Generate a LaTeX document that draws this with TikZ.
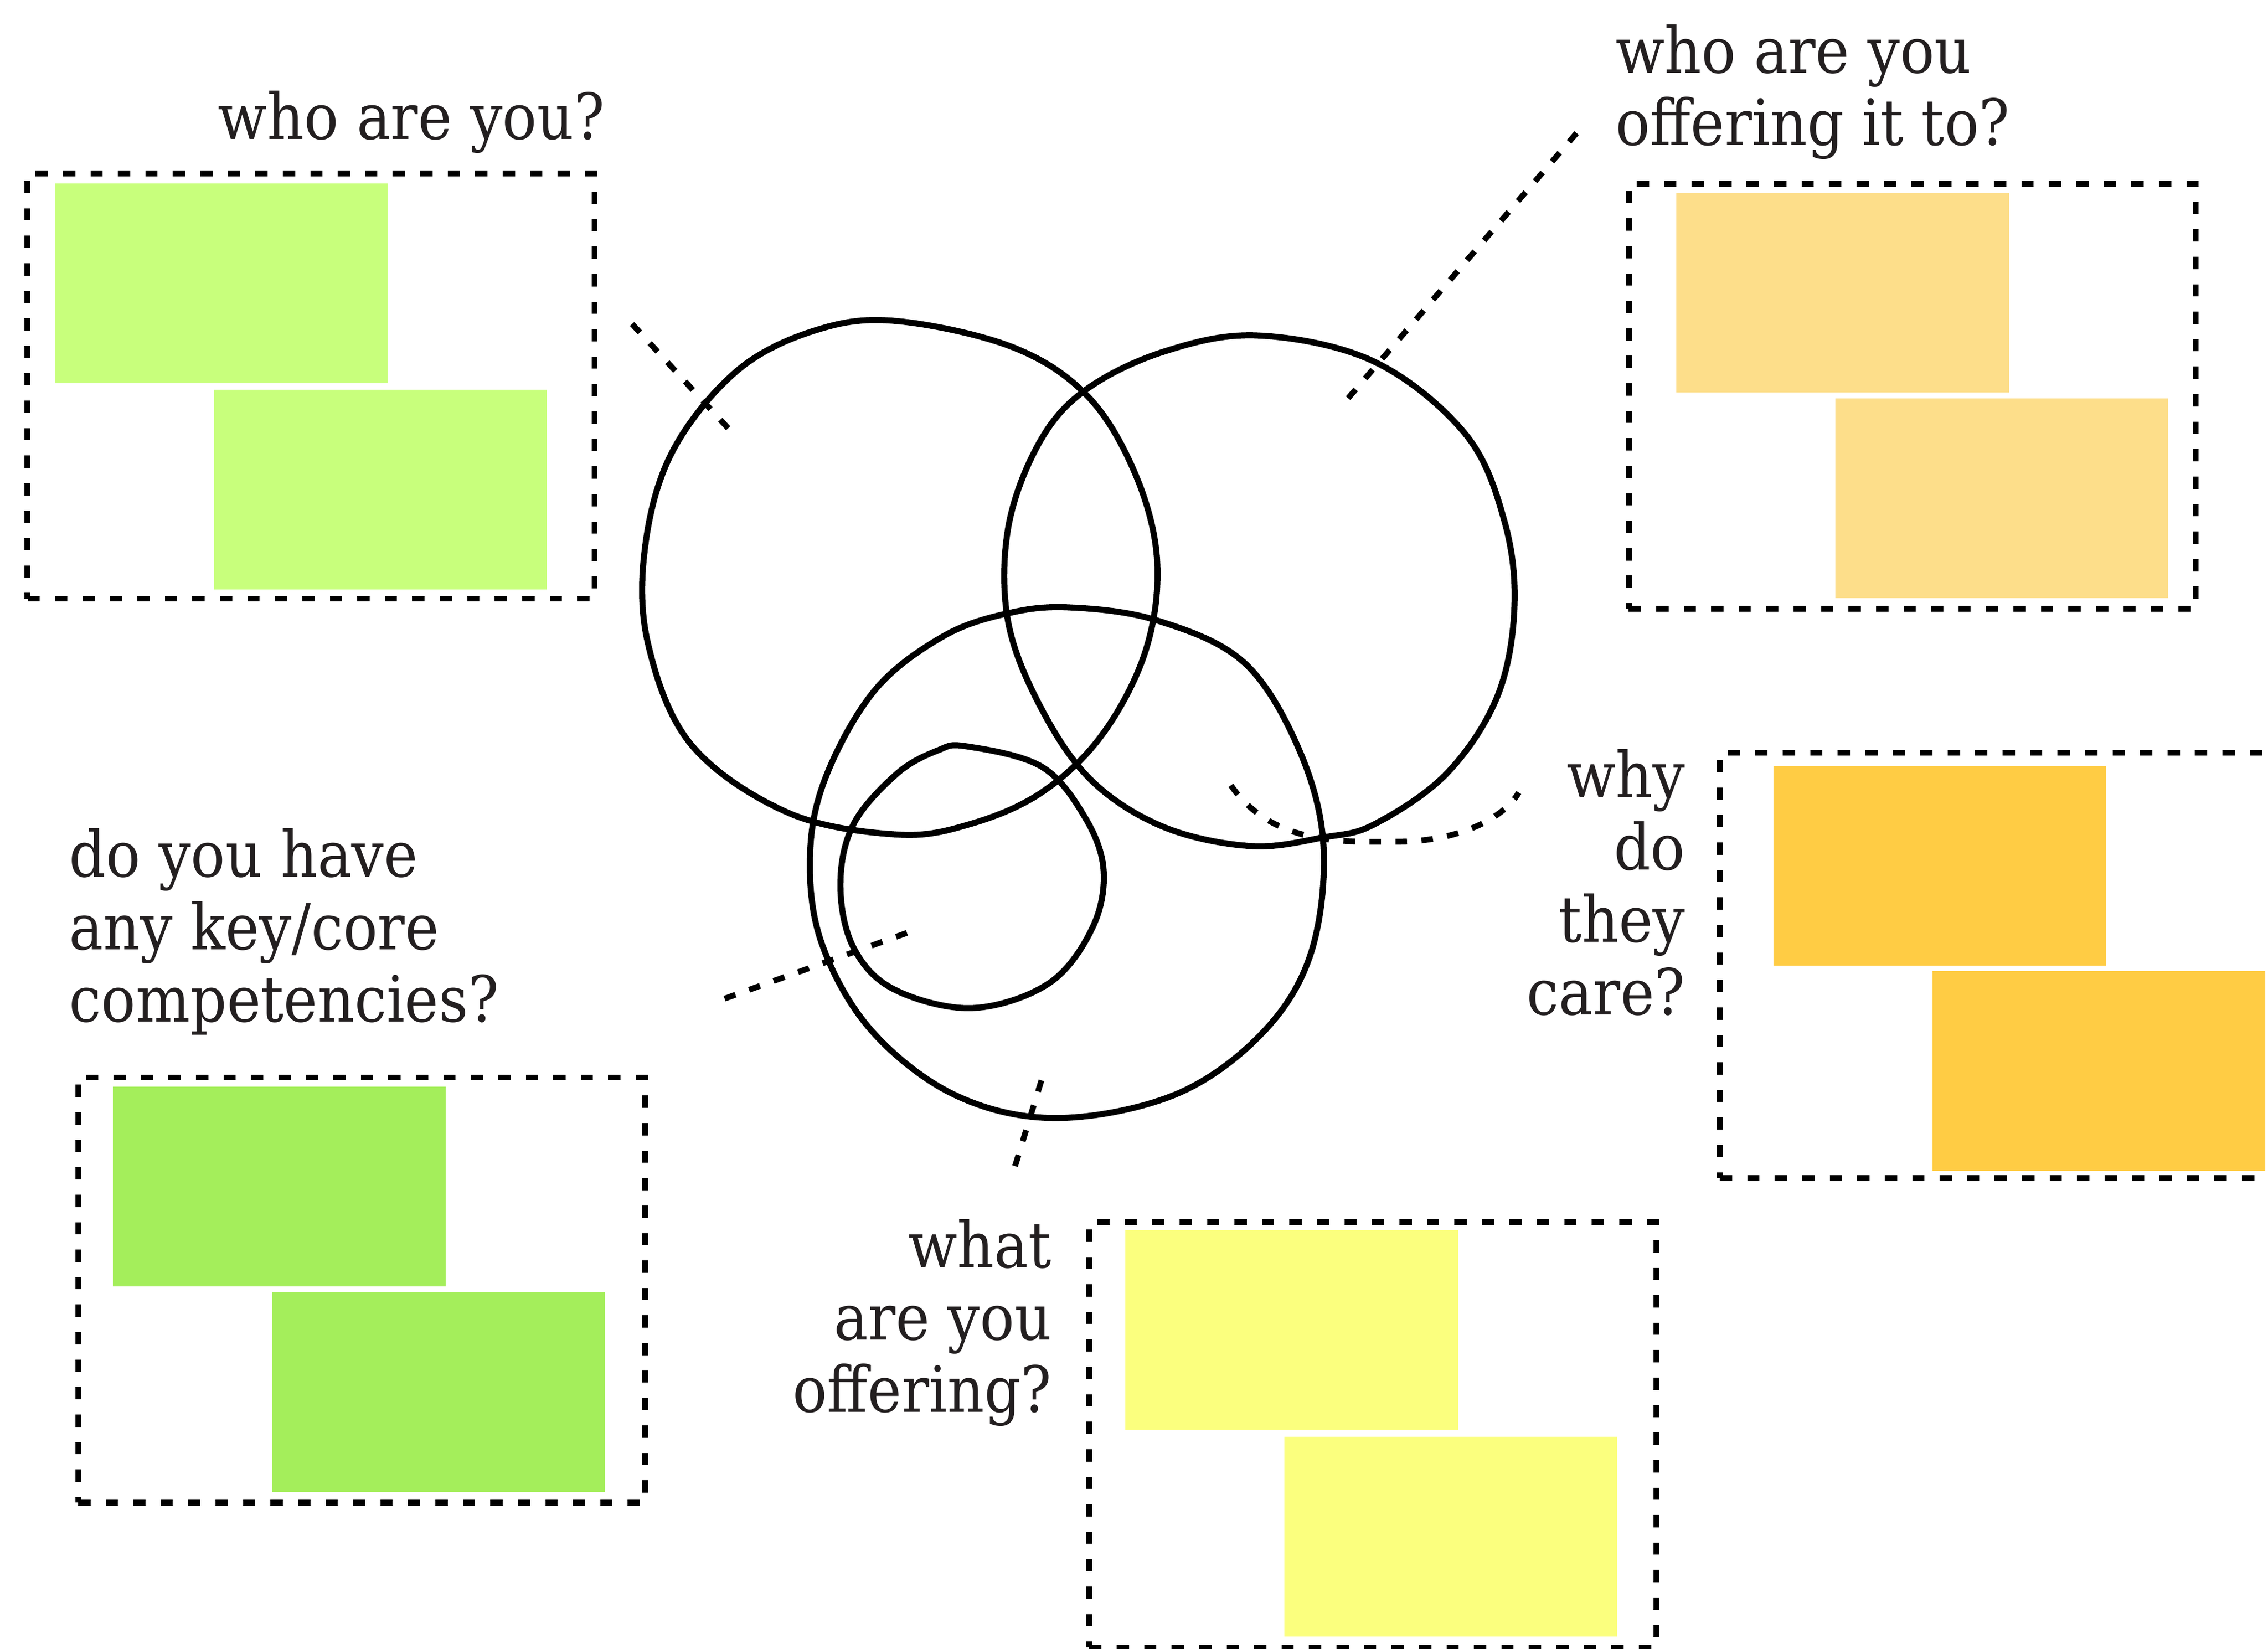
\documentclass[tikz,border=0pt]{standalone}
\usepackage{fontspec}
\setmainfont{DejaVu Serif Condensed}
\definecolor{txt}{HTML}{231F20}
\definecolor{greenA}{HTML}{C8FF7C}
\definecolor{orangeA}{HTML}{FDDE8A}
\definecolor{orangeB}{HTML}{FFCC44}
\definecolor{greenB}{HTML}{A4EE5B}
\definecolor{yellowA}{HTML}{FBFF7E}
\begin{document}
\begin{tikzpicture}[x=1pt,y=-1pt,
  dashbox/.style={draw=black, line width=4pt, dash pattern=on 8.5pt off 10.5pt, minimum width=392pt, minimum height=294pt, inner sep=0pt, outer sep=0pt},
  note/.style={minimum width=230pt, minimum height=138pt, inner sep=0pt, outer sep=0pt},
  blob/.style={draw=black, line width=4.2pt},
  conn/.style={draw=black, line width=4pt, dash pattern=on 8pt off 10pt},
  lbl/.style={font=\fontsize{44}{50}\selectfont, text=txt, inner sep=0pt, outer sep=0pt}]
\useasboundingbox (0,0) rectangle (1568,1140);
\fill[white] (0,0) rectangle (1568,1140);

% box 1
\node[dashbox] (box1) at (215,267) {};
\node[note, fill=greenA] (n1a) at (153,196) {};
\node[note, fill=greenA] (n1b) at (263,338.5) {};
% box 2
\node[dashbox] (box2) at (1322,274) {};
\node[note, fill=orangeA] (n2a) at (1274,202.5) {};
\node[note, fill=orangeA] (n2b) at (1384,344.5) {};
% box 3
\node[dashbox] (box3) at (1385,667.5) {};
\node[note, fill=orangeB] (n3a) at (1341,598.5) {};
\node[note, fill=orangeB] (n3b) at (1451,740.5) {};
% box 4
\node[dashbox] (box4) at (250,892) {};
\node[note, fill=greenB] (n4a) at (193,820.5) {};
\node[note, fill=greenB] (n4b) at (303,962.5) {};
% box 5
\node[dashbox] (box5) at (949,992) {};
\node[note, fill=yellowA] (n5a) at (893,919.5) {};
\node[note, fill=yellowA] (n5b) at (1003,1062.5) {};

% labels
\node[lbl, anchor=north east] (t1) at (418,63) {who are you?};
\node[lbl, anchor=north west, align=left] (t2) at (1117,17) {who are you\\offering it to?};
\node[lbl, anchor=north east, align=right] (t3) at (1165,518) {why\\do\\they\\care?};
\node[lbl, anchor=north west, align=left] (t4) at (48,573) {do you have\\any key/core\\competencies?};
\node[lbl, anchor=north east, align=right] (t5) at (727,843) {what\\are you\\offering?};

% circles
\draw[blob] plot[smooth cycle, tension=0.6] coordinates {
 (620,222) (700,240) (752,274) (785,328) (800,388) (792,450) (762,508) (720,548)
 (670,570) (620,577) (545,562) (478,515) (448,445) (446,378) (465,312) (510,256) (565,228)};
\draw[blob] plot[smooth cycle, tension=0.6] coordinates {
 (870,232) (950,250) (1013,300) (1040,360) (1047,420) (1035,482) (1000,535) (950,570)
 (915,579) (865,585) (805,572) (755,540) (720,490) (697,430) (697,365) (718,307) (750,270) (805,243)};
\draw[blob] plot[smooth cycle, tension=0.6] coordinates {
 (740,420) (800,429) (860,458) (898,518) (915,585) (906,660) (872,715) (812,757)
 (730,773) (660,757) (602,712) (568,652) (560,592) (571,537) (605,477) (652,440) (697,424)};
\draw[blob] plot[smooth cycle, tension=0.6] coordinates {
 (668,516) (720,530) (750,565) (763,602) (755,642) (725,680) (672,697)
 (618,684) (590,655) (581,612) (590,570) (620,535) (648,519)};

% connectors
\coordinate (c1a) at (437,224); \coordinate (c1b) at (507,300);
\coordinate (c2a) at (1090,92); \coordinate (c2b) at (928,280);
\coordinate (c3a) at (851,543); \coordinate (c3m) at (965,582); \coordinate (c3b) at (1050,548);
\coordinate (c4a) at (627,645); \coordinate (c4b) at (494,693);
\coordinate (c5a) at (720,747); \coordinate (c5b) at (700,812);
\draw[conn] (c1a) -- (c1b);
\draw[conn] (c2a) -- (c2b);
\draw[conn] (c3a) .. controls (880,585) and (930,582) .. (c3m) .. controls (1010,582) and (1040,565) .. (c3b);
\draw[conn] (c4a) -- (c4b);
\draw[conn] (c5a) -- (c5b);
\end{tikzpicture}
\end{document}
